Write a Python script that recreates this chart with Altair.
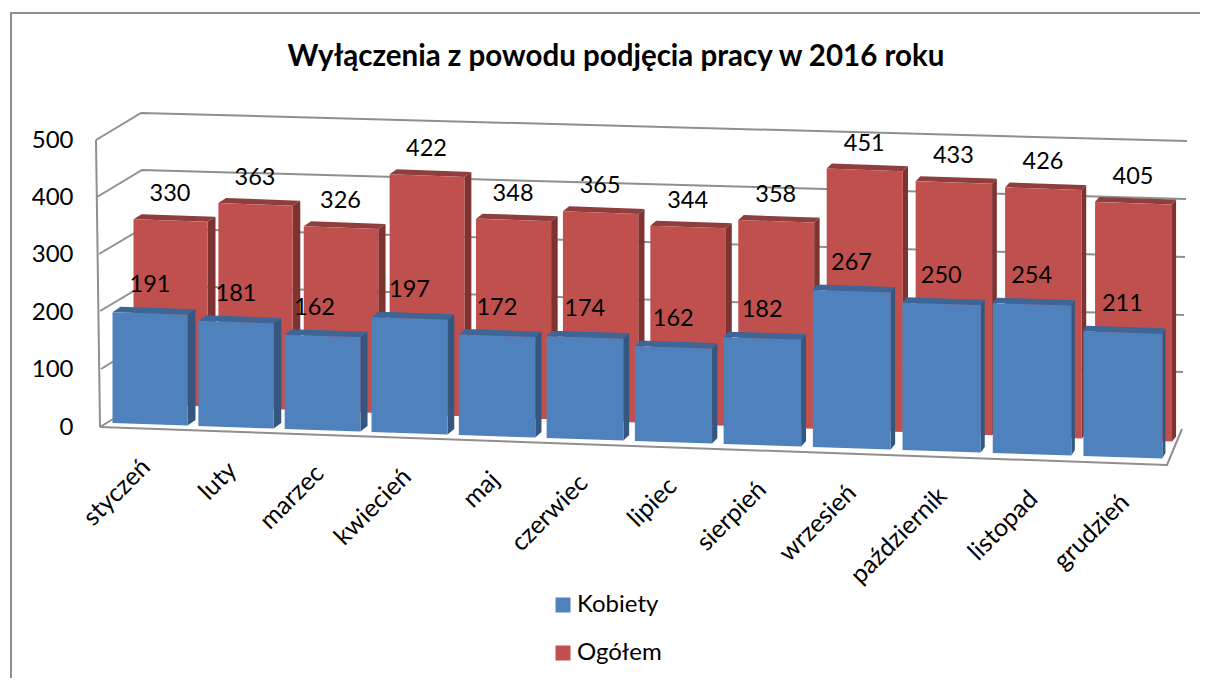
import altair as alt
import numpy as np
import pandas as pd

months = ["styczeń", "luty", "marzec", "kwiecień", "maj", "czerwiec", "lipiec",
          "sierpień", "wrzesień", "październik", "listopad", "grudzień"]
kobiety = [191, 181, 162, 197, 172, 174, 162, 182, 267, 250, 254, 211]
ogolem = [330, 363, 326, 422, 348, 365, 344, 358, 451, 433, 426, 405]
ticks = [0, 100, 200, 300, 400, 500]
TITLE = "Wyłączenia z powodu podjęcia pracy w 2016 roku"
FONT = "Lato"
W, H = 1192, 670
PX = 0.574

def yu(py):  # page pixel row -> value units of the y scale
    return (427 - py) / PX

def xu(px):  # page pixel col -> units of the x scale
    return px - 8

def bar_geom(i, v, series):
    """Project one bar of the pseudo-3D chart."""
    if series == "Kobiety":
        xt = 112 + 86 * i + 0.24 * i * (i - 1)
        w = 75 + 0.36 * i
        lean = 1 - 0.27 * i
        base = 423 + 3.0 * i
        k = 0.58 + 0.001 * i
        dx = 8 - 0.45 * i
        dy = 5.5
    else:
        xt = 133 + 85 * i + 0.255 * i * (i - 1)
        w = 74 + 0.27 * i
        lean = 1 - 0.27 * i
        base = 404 + 3.18 * i
        k = 0.56 + 0.0023 * i
        dx = 8 - 0.36 * i
        dy = 5
    tl = base - k * v
    tilt = 2.6
    return dict(xt=xt, w=w, xb=xt + lean, base=base, tl=tl, tilt=tilt, dx=dx, dy=dy)

def poly(upper, lower):
    xs = sorted({p[0] for p in upper} | {p[0] for p in lower})
    ux, uy = zip(*sorted(upper))
    lx, ly = zip(*sorted(lower))
    return [(x, np.interp(x, ux, uy), np.interp(x, lx, ly)) for x in xs]

def face_rows(values, series):
    front, side, top = [], [], []
    for i, v in enumerate(values):
        g = bar_geom(i, v, series)
        xl, xr = g["xt"], g["xt"] + g["w"]
        bl, br = g["xb"], g["xb"] + g["w"]
        tl, tr = g["tl"], g["tl"] + g["tilt"]
        b0, b1 = g["base"], g["base"] + g["tilt"]
        dx, dy = g["dx"], g["dy"]
        x0, x1 = (xl + bl) / 2, (xr + br) / 2
        for x, a, b in poly([(x0, tl), (x1, tr)], [(x0, b0), (x1, b1)]):
            front.append(dict(id=f"{series}{i}", series=series, x=xu(x), y=yu(a), y2=yu(b)))
        for x, a, b in poly([(x1, tr), (x1 + dx, tr - dy)], [(x1, b1), (x1 + dx, b1 - dy)]):
            side.append(dict(id=f"{series}{i}", x=xu(x), y=yu(a), y2=yu(b)))
        for x, a, b in poly([(x0, tl), (x0 + dx, tl - dy), (x1 + dx, tr - dy)],
                            [(x0, tl), (x1, tr), (x1 + dx, tr - dy)]):
            top.append(dict(id=f"{series}{i}", x=xu(x), y=yu(a), y2=yu(b)))
    return pd.DataFrame(front), pd.DataFrame(side), pd.DataFrame(top)

xs = alt.Scale(domain=[0, W], nice=False, zero=False)
ys = alt.Scale(domain=[yu(678), yu(8)], nice=False, zero=False)
yaxis = alt.Axis(values=ticks, domain=False, ticks=False, grid=False, title=None, labelFont=FONT,
                 labelFontSize=24, labelColor="#000000", labelPadding=0, offset=-65)
X = alt.X("x:Q", scale=xs, axis=None)
Y = alt.Y("y:Q", scale=ys, axis=yaxis)
color = alt.Color("series:N", scale=alt.Scale(domain=["Kobiety", "Ogółem"], range=["#4F81BD", "#C0504D"]),
                  legend=alt.Legend(orient="none", legendX=543, legendY=585, title=None, symbolType="square",
                                    symbolSize=225, labelFontSize=24, labelFont=FONT, labelColor="#000000",
                                    rowPadding=24, labelOffset=2, symbolStrokeWidth=0, symbolOpacity=1))

lines = []
def line(name, *pts):
    for n, (a, b) in enumerate(pts):
        lines.append(dict(id=name, n=n, x=xu(a), y=yu(b)))

left_x = [100, 101, 100, 99, 97, 96]
left_y = [427, 369, 311, 254, 197, 140]
right_x = [1182, 1183, 1184, 1185, 1186, 1187]
right_y = [429, 372, 315, 257, 199, 141]
back_x = [146, 145, 144, 143, 142, 141]
back_y = [400, 342, 285, 228, 170, 113]
for j in range(1, 6):
    line(f"g{j}", (left_x[j], left_y[j]), (back_x[j], back_y[j]), (right_x[j], right_y[j]))
line("wall", (100, 427), (96, 140))
line("floor", (100, 427), (1167, 465), (1182, 429))
line("floor2", (100, 427), (118, 416))
line("frame", (11, 678), (11, 13), (1200, 13))
grid = alt.Chart(pd.DataFrame(lines)).mark_line(color="#8f8f8f", strokeWidth=2).encode(
    x=X, y=Y, detail="id:N", order="n:Q")

def bars(values, series, side_c, top_c):
    f, s, t = face_rows(values, series)
    return [
        alt.Chart(s).mark_area(color=side_c).encode(x=X, y=Y, y2="y2:Q", detail="id:N"),
        alt.Chart(t).mark_area(color=top_c).encode(x=X, y=Y, y2="y2:Q", detail="id:N"),
        alt.Chart(f).mark_area().encode(x=X, y=Y, y2="y2:Q", detail="id:N", color=color),
    ]

red_layers = bars(ogolem, "Ogółem", "#7F3331", "#8E3E3C")
blue_layers = bars(kobiety, "Kobiety", "#34567F", "#3D6595")

lab = []
for i, (a, b) in enumerate(zip(kobiety, ogolem)):
    ga = bar_geom(i, a, "Kobiety")
    gb = bar_geom(i, b, "Ogółem")
    shift = -8 if i == 2 else 0
    lab.append(dict(x=xu(ga["xt"] + 38 + shift), y=yu(ga["tl"] - 27), t=str(a)))
    lab.append(dict(x=xu(gb["xt"] + 37), y=yu(gb["tl"] - 25), t=str(b)))
labels = alt.Chart(pd.DataFrame(lab)).mark_text(font=FONT, fontSize=23.5, color="#000000").encode(
    x=X, y=Y, text="t:N")

mrows = [dict(x=xu(146 + 86.5 * i + 0.25 * i * (i - 1)), y=yu(463 + 3.2 * i), t=m) for i, m in enumerate(months)]
month_text = alt.Chart(pd.DataFrame(mrows)).mark_text(
    font=FONT, fontSize=25, color="#000000", angle=315, align="right", baseline="middle").encode(
    x=X, y=Y, text="t:N")

chart = alt.layer(grid, *red_layers, *blue_layers, labels, month_text).properties(
    width=W, height=H, padding=0, autosize=alt.AutoSizeParams(type="none"),
    title=alt.TitleParams(TITLE, font=FONT, fontSize=29.5, fontWeight="bold", color="#000000", anchor="middle",
                          baseline="middle", offset=-78, dx=12)
).configure_view(stroke=None)

chart.save("out.html", embed_options={"renderer": "svg", "actions": False})
